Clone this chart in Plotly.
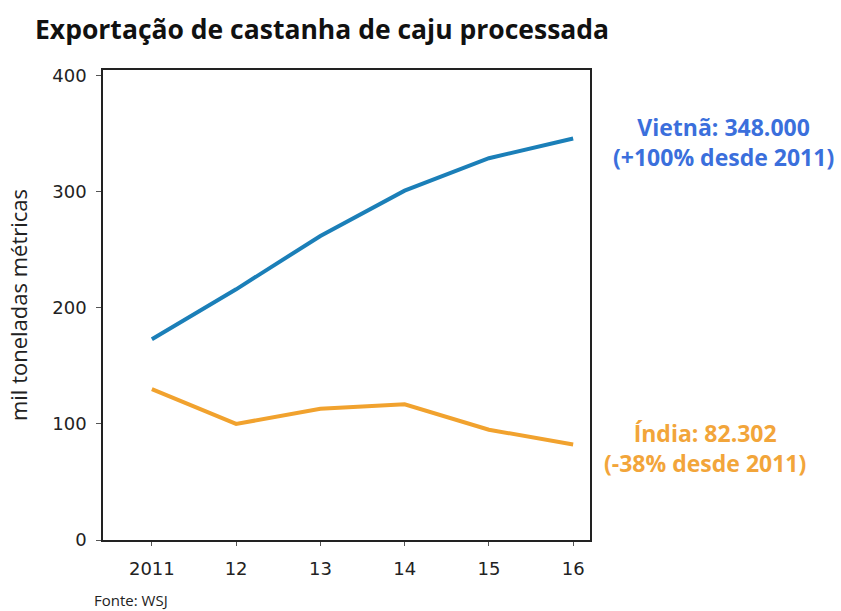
import plotly.graph_objects as go

years = [2011, 2012, 2013, 2014, 2015, 2016]
tick_labels = ["2011", "12", "13", "14", "15", "16"]
vietna = [173, 216, 262, 301, 329, 346]
india = [130, 100, 113, 117, 95, 82.3]
y_ticks = [0, 100, 200, 300, 400]

BLUE_LINE = "#1b7fb8"
ORANGE_LINE = "#f1a22e"
BLUE_TEXT = "#3b6fdc"
ORANGE_TEXT = "#f2a53a"

W, H = 841, 611
L, R, T, B = 103, 251, 70, 71

fig = go.Figure()
fig.add_trace(go.Scatter(x=years, y=vietna, mode="lines",
                         line=dict(color=BLUE_LINE, width=4), showlegend=False))
fig.add_trace(go.Scatter(x=years, y=india, mode="lines",
                         line=dict(color=ORANGE_LINE, width=4), showlegend=False))

tick_font = dict(family="DejaVu Sans", size=18, color="#222222")

fig.update_layout(
    width=W, height=H,
    margin=dict(l=L, r=R, t=T, b=B),
    paper_bgcolor="white", plot_bgcolor="white",
    title=dict(text="<b>Exportação de castanha de caju processada</b>",
               x=35 / W, xanchor="left", y=1 - 30 / H, yanchor="middle",
               font=dict(family="Open Sans", size=26.5, color="#111111")),
    xaxis=dict(range=[2010.42, 2016.2], tickvals=years, ticktext=tick_labels,
               showgrid=False, zeroline=False, showline=True, mirror=True,
               linecolor="#222222", linewidth=1.5, ticks="outside", ticklen=4,
               tickcolor="#555555", tickfont=tick_font, ticklabelstandoff=8),
    yaxis=dict(range=[0, 405], tickvals=y_ticks, showgrid=False, zeroline=False,
               showline=True, mirror=True, linecolor="#222222", linewidth=1.5,
               ticks="outside", ticklen=5, tickcolor="#555555", tickfont=tick_font,
               ticklabelstandoff=6,
               title=dict(text="mil toneladas métricas", standoff=19,
                          font=dict(family="Open Sans", size=22, color="#222222"))),
)

pw, ph = W - L - R, H - T - B


def px2paper(px, py):
    return (px - L) / pw, (H - B - py) / ph


ann_font = dict(family="Open Sans", size=23)
x, y = px2paper(723, 142)
fig.add_annotation(x=x, y=y, xref="paper", yref="paper", showarrow=False,
                   xanchor="center", yanchor="middle",
                   text="<b>Vietnã: 348.000<br>(+100% desde 2011)</b>",
                   font=dict(ann_font, color=BLUE_TEXT), align="center")
x, y = px2paper(705, 448)
fig.add_annotation(x=x, y=y, xref="paper", yref="paper", showarrow=False,
                   xanchor="center", yanchor="middle",
                   text="<b>Índia: 82.302<br>(-38% desde 2011)</b>",
                   font=dict(ann_font, color=ORANGE_TEXT), align="center")
x, y = px2paper(92, 600)
fig.add_annotation(x=x, y=y, xref="paper", yref="paper", showarrow=False,
                   xanchor="left", yanchor="middle", text="Fonte: WSJ",
                   font=dict(family="Open Sans", size=15, color="#222222"))

fig.write_html("out.html", config={"displayModeBar": False},
               post_script="document.body.style.margin='0px';document.body.style.padding='0px';")
